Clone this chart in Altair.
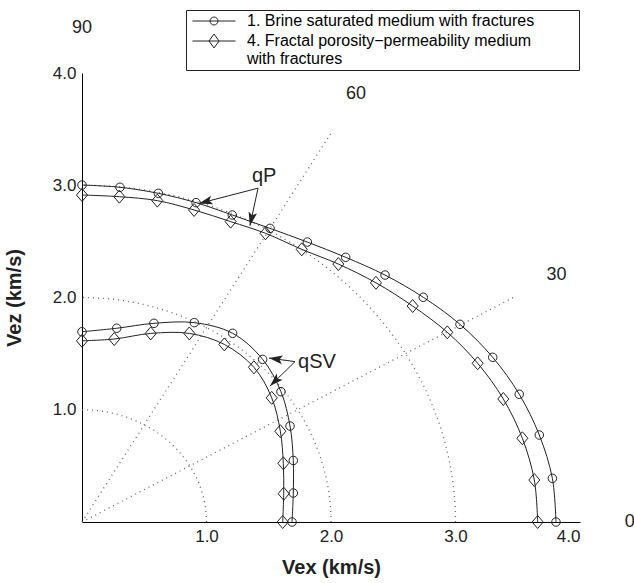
import math
import altair as alt
import pandas as pd

# ---------------- data ----------------
MEDIUM_1 = "1. Brine saturated medium with fractures"
MEDIUM_4 = "4. Fractal porosity\u2212permeability medium|with fractures"
media = [MEDIUM_1, MEDIUM_4]

# qP, medium 1 (circles)
qp1_x = [0.0, 0.305, 0.613, 0.916, 1.207, 1.510, 1.810, 2.118, 2.434, 2.741, 3.036, 3.299, 3.512, 3.673, 3.778, 3.807]
qp1_z = [3.002, 2.982, 2.928, 2.845, 2.735, 2.616, 2.494, 2.358, 2.200, 2.002, 1.761, 1.467, 1.138, 0.775, 0.389, 0.0]
# qP, medium 4 (diamonds)
qp4_x = [0.0, 0.300, 0.605, 0.900, 1.194, 1.474, 1.765, 2.059, 2.361, 2.656, 2.934, 3.178, 3.384, 3.537, 3.633, 3.660]
qp4_z = [2.913, 2.898, 2.863, 2.780, 2.676, 2.572, 2.429, 2.298, 2.131, 1.924, 1.690, 1.414, 1.096, 0.746, 0.374, 0.0]
# qSV, medium 1 (circles)
qsv1_x = [0.0, 0.279, 0.578, 0.902, 1.210, 1.451, 1.598, 1.671, 1.697, 1.697, 1.687]
qsv1_z = [1.695, 1.726, 1.770, 1.776, 1.681, 1.449, 1.161, 0.855, 0.548, 0.258, 0.0]
# qSV, medium 4 (diamonds)
qsv4_x = [0.0, 0.259, 0.552, 0.862, 1.143, 1.381, 1.524, 1.593, 1.617, 1.620, 1.612]
qsv4_z = [1.614, 1.630, 1.680, 1.680, 1.582, 1.378, 1.106, 0.809, 0.523, 0.252, 0.0]

x_ticks = [1, 2, 3, 4]
grid_radii = [1, 2, 3]
grid_degrees = list(range(0, 91))
ray_angles = [30, 60]
ray_length = 4
angle_labels = [0, 30, 60, 90]
angle_label_radius = 4.4

annot_text = ["qP", "qSV"]
annot_x = [1.365, 1.735]
annot_z = [3.029, 1.372]

arrow_x0 = [1.414, 1.414, 1.711, 1.711]
arrow_z0 = [2.974, 2.974, 1.429, 1.429]
arrow_x1 = [0.940, 1.349, 1.502, 1.510]
arrow_z1 = [2.838, 2.640, 1.460, 1.211]

# ---------------- tables ----------------
rows = []
for wave, med, xs, zs in [("qP", MEDIUM_1, qp1_x, qp1_z), ("qP", MEDIUM_4, qp4_x, qp4_z),
                          ("qSV", MEDIUM_1, qsv1_x, qsv1_z), ("qSV", MEDIUM_4, qsv4_x, qsv4_z)]:
    for i, (a, b) in enumerate(zip(xs, zs)):
        rows.append({"wave": wave, "medium": med, "curve": wave + "-" + med, "idx": i, "vx": a, "vz": b})
curves = pd.DataFrame(rows)

arc_df = pd.DataFrame([{"r": r, "deg": d} for r in grid_radii for d in grid_degrees])
ray_df = pd.DataFrame({"deg": ray_angles})
lab_df = pd.DataFrame({"deg": angle_labels})
annot_df = pd.DataFrame({"txt": annot_text, "vx": annot_x, "vz": annot_z})

W, H = 498, 449
px_x, px_z = W / 4.0, H / 4.0
arrow_df = pd.DataFrame({"vx": arrow_x0, "vz": arrow_z0, "vx2": arrow_x1, "vz2": arrow_z1})
arrow_df["ang"] = [
    math.degrees(math.atan2(-(z1 - z0) * px_z, (x1 - x0) * px_x)) % 360
    for x0, z0, x1, z1 in zip(arrow_x0, arrow_z0, arrow_x1, arrow_z1)
]

# ---------------- encodings ----------------
FONT = "Liberation Sans"
INK = "#222222"
xscale = alt.Scale(domain=[0, 4], nice=False, zero=False)
zscale = alt.Scale(domain=[0, 4], nice=False, zero=False)
x_axis = alt.Axis(values=x_ticks, format=".1f", title="Vex (km/s)", labelPadding=6, titlePadding=13)
z_axis = alt.Axis(values=x_ticks, format=".1f", title="Vez (km/s)", labelPadding=6, titlePadding=28)
X = alt.X("vx:Q", scale=xscale, axis=x_axis)
Z = alt.Y("vz:Q", scale=zscale, axis=z_axis)

CIRCLE = "M-0.654,0A0.654,0.654 0 1,0 0.654,0A0.654,0.654 0 1,0 -0.654,0"
DIAMOND = "M0,-1L0.85,0L0,1L-0.85,0Z"
LEG_CIRCLE = "M-2.87,0H2.87M-0.53,0A0.53,0.53 0 1,0 0.53,0A0.53,0.53 0 1,0 -0.53,0"
LEG_DIAMOND = "M-2.87,0H2.87M0,-0.93L0.67,0L0,0.93L-0.67,0Z"
ARROW = "M0,0L-1,-0.32L-0.78,0L-1,0.32Z"

label_expr = "split(datum.label, '|')"

arcs = alt.Chart(arc_df).transform_calculate(
    vx="datum.r*cos(datum.deg*PI/180)", vz="datum.r*sin(datum.deg*PI/180)"
).mark_line(color="#666666", strokeWidth=1.3, strokeDash=[1, 4]).encode(
    x=X, y=Z, detail="r:N", order="deg:Q")

rays = alt.Chart(ray_df).transform_calculate(
    vx="0", vz="0",
    vx2=f"{ray_length}*cos(datum.deg*PI/180)", vz2=f"{ray_length}*sin(datum.deg*PI/180)"
).mark_rule(color="#666666", strokeWidth=1.3, strokeDash=[1, 4]).encode(
    x=X, y=Z, x2="vx2:Q", y2="vz2:Q")

angle_text = alt.Chart(lab_df).transform_calculate(
    vx=f"{angle_label_radius}*cos(datum.deg*PI/180)",
    vz=f"{angle_label_radius}*sin(datum.deg*PI/180)",
    lab="toString(datum.deg)"
).mark_text(font=FONT, fontSize=18, color=INK, align="center", baseline="middle").encode(
    x=X, y=Z, text="lab:N")

lines = alt.Chart(curves).mark_line(color=INK, strokeWidth=1, interpolate="catmull-rom").encode(
    x=X, y=Z, detail="curve:N", order="idx:Q")

points = alt.Chart(curves).mark_point(filled=False, color=INK, strokeWidth=1, size=169, opacity=1).encode(
    x=X, y=Z,
    shape=alt.Shape("medium:N", scale=alt.Scale(domain=media, range=[CIRCLE, DIAMOND]), legend=None))

legend_layer = alt.Chart(curves).mark_point(filled=False, color=INK, strokeWidth=1, size=225, opacity=0).encode(
    x=X, y=Z,
    shape=alt.Shape("medium:N", scale=alt.Scale(domain=media, range=[LEG_CIRCLE, LEG_DIAMOND]),
                    legend=alt.Legend(
                        title="MM", titleOrient="right", titleOpacity=0, titleFontSize=16,
                        titlePadding=15, titleFont=FONT,
                        orient="none", legendX=104, legendY=-63, direction="vertical",
                        strokeColor=INK, fillColor="white", padding=3,
                        labelFont=FONT, labelFontSize=16, labelColor="black", labelLimit=500,
                        labelOffset=25, labelExpr=label_expr,
                        symbolSize=225, symbolStrokeColor=INK, symbolFillColor="transparent",
                        symbolStrokeWidth=1, symbolOpacity=1, symbolOffset=17, rowPadding=3)))

shafts = alt.Chart(arrow_df).mark_rule(color=INK, strokeWidth=1).encode(
    x=X, y=Z, x2="vx2:Q", y2="vz2:Q")
heads = alt.Chart(arrow_df).mark_point(shape=ARROW, filled=True, color=INK, size=729, opacity=1).encode(
    x=alt.X("vx2:Q", scale=xscale, axis=x_axis), y=alt.Y("vz2:Q", scale=zscale, axis=z_axis),
    angle=alt.Angle("ang:Q", scale=None))

annots = alt.Chart(annot_df).mark_text(font=FONT, fontSize=20, color=INK, align="left",
                                       baseline="alphabetic").encode(x=X, y=Z, text="txt:N")

chart = alt.layer(arcs, rays, angle_text, lines, points, legend_layer, shafts, heads, annots).resolve_scale(
    shape="independent"
).properties(
    width=W, height=H,
    padding={"left": 82, "top": 73, "right": 54, "bottom": 61},
    autosize=alt.AutoSizeParams(type="none"),
    background="white",
).configure_view(stroke=None).configure_axis(
    grid=False, ticks=False, domainColor="black", domainWidth=1,
    labelFont=FONT, labelFontSize=17, labelColor=INK,
    titleFont=FONT, titleFontSize=20, titleFontWeight="bold", titleColor=INK,
)

chart.save("out.html", embed_options={"renderer": "svg", "actions": False})
